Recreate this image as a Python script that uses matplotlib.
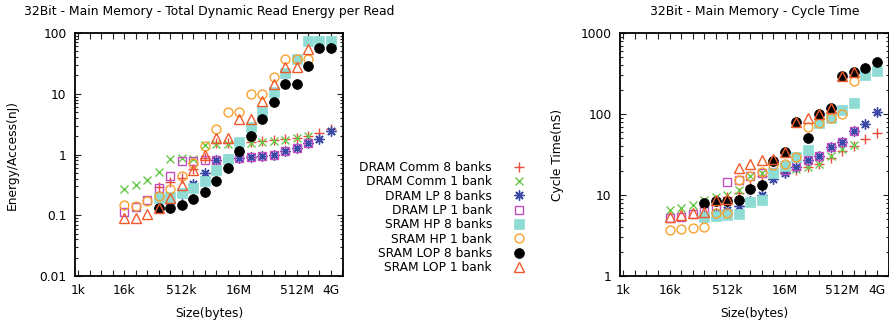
import numpy as np
import matplotlib
matplotlib.use('Agg')
import matplotlib.pyplot as plt
from matplotlib.ticker import FixedLocator, FixedFormatter, NullFormatter

plt.rcParams['font.family'] = 'DejaVu Sans'
plt.rcParams['font.size'] = 8.8

# Memory sizes in bytes (1 bank configs: 16k..1G, 8 bank configs: 128k..4G)
sizes_1bank = [16384, 32768, 65536, 131072, 262144, 524288, 1048576, 2097152, 4194304,
               8388608, 16777216, 33554432, 67108864, 134217728, 268435456, 536870912,
               1073741824]
sizes_8bank = [131072, 262144, 524288, 1048576, 2097152, 4194304, 8388608, 16777216,
               33554432, 67108864, 134217728, 268435456, 536870912, 1073741824,
               2147483648, 4294967296]

# Total dynamic read energy per read (nJ)
energy_dram_comm_8 = [0.29, 0.35, 0.41, 0.58, 0.86, 1.55, 1.55, 1.55, 1.62, 1.65, 1.72, 1.80, 1.90, 2.05, 2.30, 2.60]
energy_dram_comm_1 = [0.27, 0.31, 0.38, 0.52, 0.85, 0.88, 0.85, 1.45, 1.48, 1.50, 1.50, 1.55, 1.60, 1.68, 1.75, 1.85, 2.05]
energy_dram_lp_8 = [0.13, 0.16, 0.22, 0.33, 0.49, 0.80, 0.85, 0.87, 0.90, 0.95, 1.00, 1.13, 1.28, 1.55, 1.82, 2.45]
energy_dram_lp_1 = [0.115, 0.135, 0.18, 0.28, 0.45, 0.78, 0.78, 0.80, 0.80, 0.85, 0.87, 0.90, 0.95, 1.00, 1.13, 1.28, 1.55]
energy_sram_hp_8 = [0.19, 0.20, 0.23, 0.28, 0.36, 0.55, 0.85, 1.60, 2.80, 5.10, 10.5, 22.0, 38.0, 74.0, 74.0, 74.0]
energy_sram_hp_1 = [0.145, 0.14, 0.17, 0.205, 0.27, 0.44, 0.73, 1.37, 2.60, 5.0, 5.0, 9.8, 9.8, 18.8, 37.0, 37.0, 37.5]
energy_sram_lop_8 = [0.13, 0.13, 0.15, 0.185, 0.24, 0.37, 0.60, 1.15, 2.0, 3.9, 7.3, 14.5, 14.5, 28.5, 55.6, 56.0]
energy_sram_lop_1 = [0.09, 0.09, 0.105, 0.13, 0.19, 0.32, 0.55, 1.0, 1.88, 1.90, 3.8, 3.8, 7.5, 14.4, 28.0, 28.0, 55.0]

# Cycle time (ns)
cycle_dram_comm_8 = [7.5, 8.5, 9.5, 10.5, 13.0, 17.0, 18.5, 19.5, 20.5, 22.0, 24.0, 29.0, 35.0, 40.0, 48.5, 59.0]
cycle_dram_comm_1 = [6.6, 7.0, 7.5, 8.7, 9.5, 10.0, 11.5, 17.0, 18.5, 19.0, 20.0, 21.0, 22.0, 24.0, 30.0, 37.0, 42.0]
cycle_dram_lp_8 = [5.5, 6.0, 6.5, 7.3, 8.5, 10.0, 15.6, 18.6, 22.0, 27.0, 30.5, 38.6, 45.4, 61.7, 74.5, 107.0]
cycle_dram_lp_1 = [5.2, 5.4, 5.8, 6.3, 7.0, 14.6, 15.5, 17.2, 18.5, 19.5, 20.5, 23.0, 27.0, 30.5, 38.6, 45.4, 61.0]
cycle_sram_hp_8 = [5.3, 5.5, 5.7, 5.9, 8.3, 8.7, 18.5, 23.0, 29.6, 35.5, 76.6, 88.6, 112.0, 135.0, 303.0, 338.0]
cycle_sram_hp_1 = [3.7, 3.8, 3.9, 4.0, 6.05, 6.05, 15.5, 17.0, 19.5, 23.4, 23.8, 29.6, 69.0, 76.6, 88.6, 99.0, 255.0]
cycle_sram_lop_8 = [8.0, 8.5, 8.5, 8.7, 11.8, 13.3, 26.5, 33.7, 79.0, 51.0, 99.0, 117.0, 295.0, 330.0, 375.0, 440.0]
cycle_sram_lop_1 = [5.4, 5.65, 5.95, 6.2, 8.7, 9.0, 21.3, 24.3, 27.0, 27.5, 33.7, 79.0, 88.6, 99.5, 117.0, 295.0, 330.0]

labels = ['DRAM Comm 8 banks', 'DRAM Comm 1 bank', 'DRAM LP 8 banks', 'DRAM LP 1 bank',
          'SRAM HP 8 banks', 'SRAM HP 1 bank', 'SRAM LOP 8 banks', 'SRAM LOP 1 bank']

# x tick labels (only some of the power-of-two ticks are labelled)
xtick_text = {1024: '1k', 16384: '16k', 524288: '512k', 16777216: '16M',
              536870912: '512M', 4294967296: '4G'}

# marker style per series: (marker, size, color, filled)
styles = [
    ('+', 6.5, '#ec4a3c', False),
    ('x', 6.0, '#66c84a', False),
    ((8, 2, 0), 7.2, '#3a4aa6', False),
    ('s', 6.0, '#c24fc0', False),
    ('s', 7.0, '#8edcd4', True),
    ('o', 6.4, '#f7a12e', False),
    ('o', 7.1, '#000000', True),
    ('^', 7.4, '#f05a2a', False),
]


def draw_series(ax, series):
    handles = []
    for (xs, ys), (mk, ms, col, filled), lab in zip(series, styles, labels):
        if filled:
            h, = ax.plot(xs, ys, linestyle='none', marker=mk, markersize=ms,
                         markerfacecolor=col, markeredgecolor=col, markeredgewidth=0.5, label=lab)
        else:
            h, = ax.plot(xs, ys, linestyle='none', marker=mk, markersize=ms,
                         markerfacecolor='none', markeredgecolor=col, markeredgewidth=1.0, label=lab)
        handles.append(h)
    return handles


def style_axes(ax, ymin, ymax, yticks, ylabels, ylabel, title, ylabelpad):
    ax.set_xscale('log', base=2)
    ax.set_yscale('log')
    ax.set_xlim(2 ** 9.70, 2 ** 33.05)
    ax.set_ylim(ymin, ymax)

    xt = [2 ** k for k in range(10, 34)]
    ax.xaxis.set_major_locator(FixedLocator(xt))
    ax.xaxis.set_major_formatter(FixedFormatter([xtick_text.get(v, '') for v in xt]))
    ax.xaxis.set_minor_locator(FixedLocator([]))

    ax.yaxis.set_major_locator(FixedLocator(yticks))
    ax.yaxis.set_major_formatter(FixedFormatter(ylabels))
    minors = [m * 10.0 ** e for e in range(-3, 4) for m in range(2, 10)]
    ax.yaxis.set_minor_locator(FixedLocator(minors))
    ax.yaxis.set_minor_formatter(NullFormatter())

    ax.tick_params(which='both', direction='in', top=True, right=True, width=0.8, color='#222222')
    ax.tick_params(axis='x', which='major', length=4, pad=6, labelsize=8.8)
    ax.tick_params(axis='y', which='major', length=4, pad=6, labelsize=8.8)
    ax.tick_params(axis='y', which='minor', length=2.2)
    for sp in ax.spines.values():
        sp.set_linewidth(1.3)

    ax.set_xlabel('Size(bytes)', labelpad=7, fontsize=8.8)
    ax.set_ylabel(ylabel, labelpad=ylabelpad, fontsize=8.8)
    ax.set_title(title, pad=13, fontsize=8.9)


fig = plt.figure(figsize=(8.89, 3.21), dpi=100)
ax1 = fig.add_axes([75 / 889, 45 / 321, 268 / 889, 243 / 321])
ax2 = fig.add_axes([620 / 889, 45 / 321, 269 / 889, 243 / 321])

energy = [energy_dram_comm_8, energy_dram_comm_1, energy_dram_lp_8, energy_dram_lp_1,
          energy_sram_hp_8, energy_sram_hp_1, energy_sram_lop_8, energy_sram_lop_1]
cycle = [cycle_dram_comm_8, cycle_dram_comm_1, cycle_dram_lp_8, cycle_dram_lp_1,
         cycle_sram_hp_8, cycle_sram_hp_1, cycle_sram_lop_8, cycle_sram_lop_1]
xs = [sizes_8bank, sizes_1bank] * 4

handles = draw_series(ax1, list(zip(xs, energy)))
draw_series(ax2, list(zip(xs, cycle)))

style_axes(ax1, 0.01, 100, [0.01, 0.1, 1, 10, 100], ['0.01', '0.1', '1', '10', '100'],
           'Energy/Access(nJ)', '32Bit - Main Memory - Total Dynamic Read Energy per Read', 15)
style_axes(ax2, 1, 1000, [1, 10, 100, 1000], ['1', '10', '100', '1000'],
           'Cycle Time(nS)', '32Bit - Main Memory - Cycle Time', 12)

fig.legend(handles=handles, labels=labels, loc='upper right',
           bbox_to_anchor=(531 / 889, 1 - 161 / 321), frameon=False,
           markerfirst=False, handlelength=2.0, handletextpad=1.2,
           labelspacing=0.11, borderpad=0, borderaxespad=0, fontsize=8.8)

fig.savefig('out.png', dpi=100)
